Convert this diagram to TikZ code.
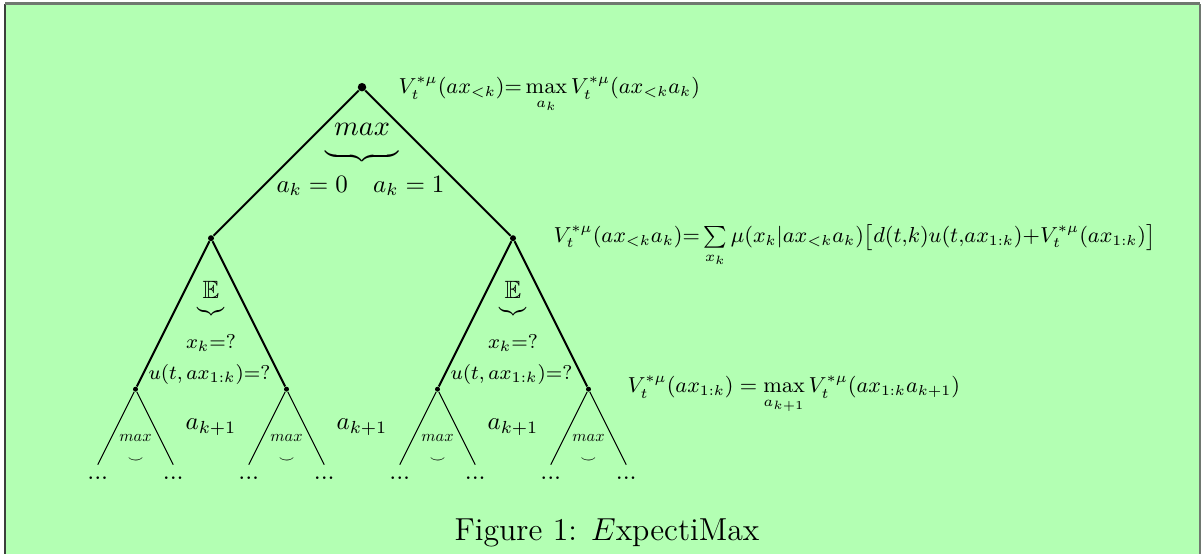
\documentclass[tikz,border=0pt]{standalone}
\usepackage{xcolor}
\usepackage{graphicx}
\usepackage{amsmath, amssymb}
\usepackage{tikz}
\usetikzlibrary{positioning}

\definecolor{boxgreen}{RGB}{179,255,179}
\definecolor{framegray}{RGB}{112,120,112}
\definecolor{framedark}{RGB}{60,64,60}

\newcommand{\fml}[1]{\scalebox{0.965}{$#1$}}

\begin{document}
\begin{tikzpicture}[x=30.2pt,y=30.2pt,
		vtx/.style={circle,fill=black,inner sep=0pt,minimum size=#1},
		formula/.style={anchor=base west,inner sep=0pt,font=\small}]
	
	\useasboundingbox (-4.795,-1.170) rectangle (11.126,6.155);
	\fill[boxgreen] (-4.728,-1.2) rectangle (11.099,6.102);
	\draw[framedark,line width=0.8pt] (-4.728,-1.2) -- (-4.728,6.102);
	\draw[framegray,line width=1.2pt] (-4.728,6.102) -- (11.099,6.102);
	\draw[framegray,line width=0.8pt] (11.099,6.102) -- (11.099,-1.2);
	
	\node[vtx=3.4pt] (root) at (0,5) {};
	\node[vtx=2.4pt] (a0) at (-2,3) {};
	\node[vtx=2.4pt] (a1) at (2,3) {};
	\node[vtx=2pt] (x00) at (-3,1) {};
	\node[vtx=2pt] (x01) at (-1,1) {};
	\node[vtx=2pt] (x10) at (1,1) {};
	\node[vtx=2pt] (x11) at (3,1) {};
	
	\draw[thick] (root) -- (a0);
	\draw[thick] (root) -- (a1);
	\draw[thick] (a0) -- (x00);
	\draw[thick] (a0) -- (x01);
	\draw[thick] (a1) -- (x10);
	\draw[thick] (a1) -- (x11);
	
	% max over the actions a_{k+1}
	\foreach \n/\x in {x00/-3,x01/-1,x10/1,x11/3}{
		\coordinate (\n l) at (\x-0.5,0);
		\coordinate (\n r) at (\x+0.5,0);
		\draw (\n) -- (\n l);
		\draw (\n) -- (\n r);
		\node[below=1.5pt of \n l] (\n dl) {...};
		\node[below=1.5pt of \n r] (\n dr) {...};
		\node (\n max) at (\x,0.354) {\scalebox{0.65}{$max$}};
		\node (\n smile) at (\x,0.06) {\tiny$\smile$};
	}
	\foreach \n/\x in {akl/-2,akm/0,akr/2}
		\node[anchor=base] (\n) at (\x,0.46) {$a_{k+1}$};
	
	% expectation over the percepts x_k
	\foreach \s/\x in {l/-2,r/2}{
		\node (exp\s) at (\x,2.31) {$\mathbb{E}$};
		\node (br\s) at (\x,2.03) {\scalebox{0.62}{$\underbrace{\hphantom{\mathbb{E}}}$}};
		\node (xk\s) at (\x,1.61) {\footnotesize$x_k{=}?$};
		\node (u\s) at (\x-0.02,1.2) {\footnotesize$u(t,ax_{1:k}){=}?$};
	}
	
	\node[inner sep=0pt] (maxtop) at (0,4.44) {\scalebox{1.13}{$max$}};
	\node[inner sep=0pt] (brtop) at (0,4.09) {\scalebox{1}[0.8]{$\underbrace{\hspace{29.6pt}}$}};
	\node[anchor=base] (ak0) at (-0.66,3.61) {$a_k = 0$};
	\node[anchor=base] (ak1) at (0.62,3.61) {$a_k = 1$};
	
	\node[formula] (vroot) at (0.477,4.91) {\fml{V_t^{*\mu}(ax_{<k}){=}\max\limits_{a_k} V_t^{*\mu}(ax_{<k}a_k)}};
	\node[formula] (vact) at (2.53,2.94) {\fml{V_t^{*\mu}(ax_{<k}a_k){=}\sum\limits_{x_k}\mu(x_k|ax_{<k}a_k)\big[d(t{,}k)u(t{,}ax_{1:k}){+}V_t^{*\mu}(ax_{1:k})\big]}};
	\node[formula] (vperc) at (3.51,0.95) {\fml{V_t^{*\mu}(ax_{1:k}) = \max\limits_{a_{k+1}} V_t^{*\mu}(ax_{1:k}a_{k+1})}};
	
	\node[anchor=base] (caption) at (3.245,-1.01) {\scalebox{1.06}{\large Figure 1: $E$xpectiMax}};
	
\end{tikzpicture}
\end{document}
